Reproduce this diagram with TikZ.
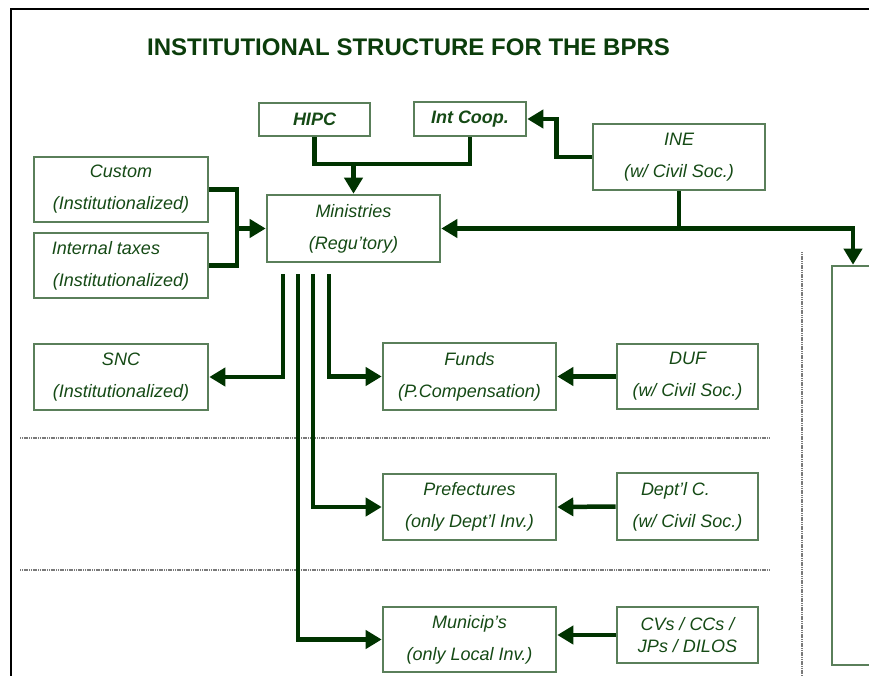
\documentclass[tikz,border=0pt]{standalone}
\usepackage{fontspec}
\setmainfont{Liberation Sans}
\usetikzlibrary{arrows.meta}
\definecolor{arrowgreen}{HTML}{003300}
\definecolor{boxgreen}{HTML}{5A7F5A}
\definecolor{txtgreen}{HTML}{154A15}
\definecolor{titlegreen}{HTML}{0B3D0B}
\definecolor{sepgray}{HTML}{7A7A7A}
\begin{document}
\begin{tikzpicture}[x=1pt,y=-1pt,
  wh/.style 2 args={minimum width=#1pt,minimum height=#2pt},
  box/.style={draw=boxgreen, line width=2.6pt, fill=white, inner sep=0pt, align=center,
    text=txtgreen, font=\fontsize{18}{21}\selectfont\itshape},
  boldbox/.style={box, font=\fontsize{18}{21}\selectfont\bfseries\itshape},
  line/.style={draw=arrowgreen, line width=4.5pt, line join=miter},
  arr/.style={line, -{Triangle[length=16pt,width=18pt]}},
  sep/.style={draw=sepgray, line width=2pt, dash pattern=on 1.2pt off 0.6pt}]
\useasboundingbox (0,0) rectangle (869,676);
\clip (0,0) rectangle (869,676);
\fill[white] (0,0) rectangle (869,676);

% frame
\draw[black, line width=2pt] (875,9) -- (11,9) -- (11,690);

% title
\node[anchor=base west, inner sep=0pt, text=titlegreen,
  font=\fontsize{24}{28}\selectfont\bfseries] (title) at (147,56)
  {INSTITUTIONAL STRUCTURE FOR THE BPRS};

% separators
\draw[sep] (20,438) -- (770,438);
\draw[sep] (20,570) -- (770,570);
\draw[sep] (802,252) -- (802,690);

% boxes
\node[boldbox, wh={111}{33}] (hipc) at (314.5,119.5) {HIPC};
\node[boldbox, wh={112}{34}] (intcoop) at (470,119) {Int Coop.};
\node[box, wh={172}{66}] (ine) at (679,157) {INE\\[11pt](w/ Civil Soc.)};
\node[box, wh={174}{65}] (custom) at (121,189.5) {Custom\\[11pt](Institutionalized)};
\node[box, wh={174}{65}] (taxes) at (121,265.5) {Internal taxes\rule{30pt}{0pt}\\[11pt](Institutionalized)};
\node[box, wh={173}{67}] (minis) at (353.5,228.5) {Ministries\\[11pt](Regu'tory)};
\node[box, wh={174}{66}] (snc) at (121,377) {SNC\\[11pt](Institutionalized)};
\node[box, wh={173}{67}] (funds) at (469.5,376.5) {Funds\\[11pt](P.Compensation)};
\node[box, wh={141}{65}] (duf) at (687.5,376.5) {DUF\\[11pt](w/ Civil Soc.)};
\node[box, wh={173}{66}] (pref) at (469.5,507) {Prefectures\\[11pt](only Dept'l Inv.)};
\node[box, wh={141}{67}] (dept) at (687.5,506.5) {Dept'l C.\rule{24pt}{0pt}\\[11pt](w/ Civil Soc.)};
\node[box, wh={173}{65}] (munic) at (469.5,639.5) {Municip's\\[11pt](only Local Inv.)};
\node[box, wh={141}{56}] (cvs) at (687.5,635) {CVs / CCs /\\[1pt]JPs / DILOS};
\node[box, wh={42}{399}] (big) at (853,465.5) {};

% top connectors
\coordinate (j1) at (353.5,164);
\draw[line] (hipc.south) |- (intcoop.south |- j1) -- (intcoop.south);
\draw[arr] (j1) -- (minis.north);
\draw[arr] (ine.west) -- ++(-35,0) |- (intcoop.east);
\draw[arr] (ine.south) |- (minis.east);
\draw[arr] (ine.south |- minis.east) -| (big.north);

% left inputs
\coordinate (j2) at (237,228.5);
\draw[line] (custom.east) -| (j2) |- (taxes.east);
\draw[arr] (j2) -- (minis.west);

% ministries outputs
\coordinate (s1) at (283,274);
\coordinate (s2) at (298,274);
\coordinate (s3) at (313,274);
\coordinate (s4) at (329,274);
\draw[arr] (s1) |- (snc.east);
\draw[arr] (s4) |- (funds.west);
\draw[arr] (s3) |- (pref.west);
\draw[arr] (s2) |- (munic.west);

% right inputs
\draw[arr] (duf.west) -- (funds.east);
\draw[arr] (dept.west) -- (pref.east);
\draw[arr] (cvs.west) -- (cvs.west -| munic.east);
\end{tikzpicture}
\end{document}
